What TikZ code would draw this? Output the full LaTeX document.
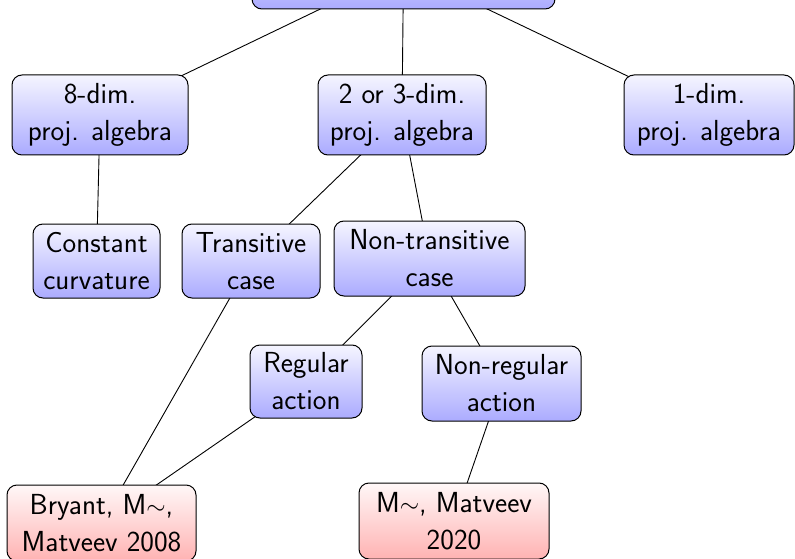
\documentclass[tikz,border=0pt]{standalone}
\usetikzlibrary{backgrounds}
\begin{document}
\begin{tikzpicture}[x=1pt,y=-1pt,
  box/.style={draw=black, line width=1pt, rounded corners=10pt, align=center,
    inner xsep=10pt, inner ysep=5pt,
    font=\fontsize{29}{37}\selectfont\sffamily},
  bluebox/.style={box, top color=blue!4, bottom color=blue!33},
  redbox/.style={box, top color=red!3, bottom color=red!30},
  link/.style={draw=black, line width=0.9pt}]
\useasboundingbox (0,0) rectangle (795,559);
\begin{scope}
\clip (0,0) rectangle (795,559);
\node[bluebox, minimum width=303pt, minimum height=80pt] (top) at (403.5,-31) {Dimension of the\\projective algebra};
\node[bluebox, minimum width=176pt, minimum height=80pt] (eight) at (100,115) {8-dim.\\proj. algebra};
\node[bluebox, minimum width=168pt, minimum height=80pt] (two) at (402,115) {2 or 3-dim.\\proj. algebra};
\node[bluebox, minimum width=170pt, minimum height=80pt] (one) at (709,115) {1-dim.\\proj. algebra};
\node[bluebox, minimum width=127pt, minimum height=74pt] (const) at (96.5,261) {Constant\\curvature};
\node[bluebox, minimum width=138pt, minimum height=74pt] (trans) at (251,261) {Transitive\\case};
\node[bluebox, minimum width=191pt, minimum height=75pt] (ntrans) at (429.5,258.5) {Non-transitive\\case};
\node[bluebox, minimum width=112pt, minimum height=73pt] (reg) at (306,381.5) {Regular\\action};
\node[bluebox, minimum width=159pt, minimum height=75pt] (nreg) at (501.5,383.5) {Non-regular\\action};
\node[redbox, minimum width=189pt, minimum height=76pt] (bryant) at (101.5,523) {Bryant, M$\sim$,\\Matveev 2008};
\node[redbox, minimum width=190pt, minimum height=76pt] (mm) at (454,521) {M$\sim$, Matveev\\2020};
\begin{scope}[on background layer]
\draw[link] (top.center) -- (eight.center);
\draw[link] (top.center) -- (two.center);
\draw[link] (top.center) -- (one.center);
\draw[link] (eight.center) -- (const.center);
\draw[link] (two.center) -- (trans.center);
\draw[link] (two.center) -- (ntrans.center);
\draw[link] (ntrans.center) -- (reg.center);
\draw[link] (ntrans.center) -- (nreg.center);
\draw[link] (trans.center) -- (bryant.center);
\draw[link] (reg.center) -- (bryant.center);
\draw[link] (nreg.center) -- (mm.center);
\end{scope}
\end{scope}
\end{tikzpicture}
\end{document}
